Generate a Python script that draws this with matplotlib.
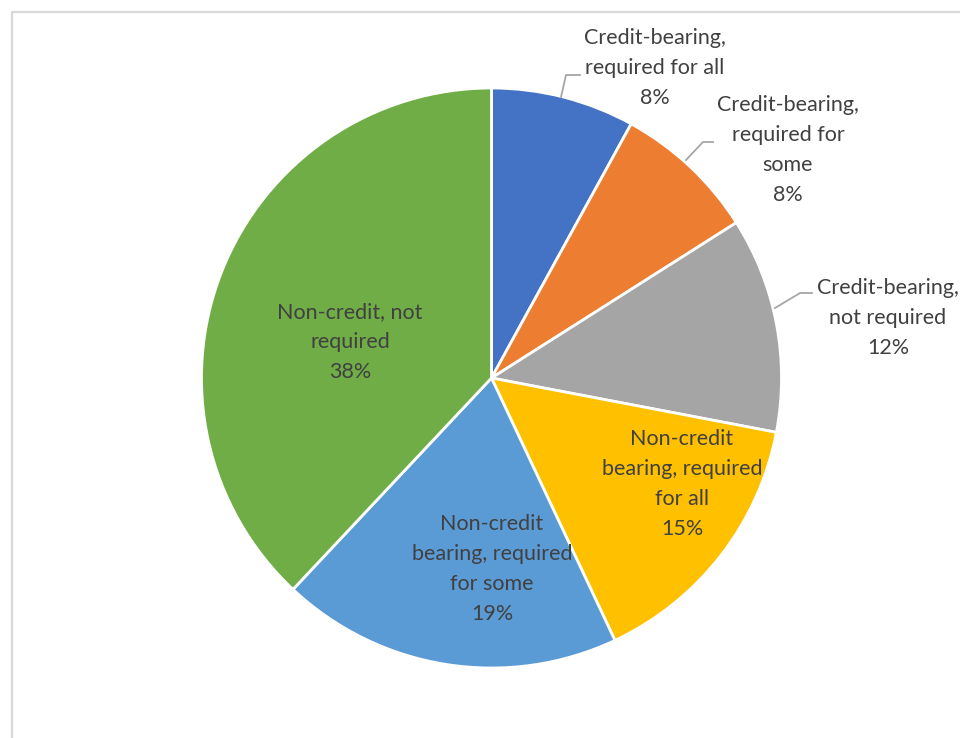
import matplotlib.pyplot as plt

# Course requirement breakdown
labels = ["Credit-bearing,\nrequired for all",
          "Credit-bearing,\nrequired for\nsome",
          "Credit-bearing,\nnot required",
          "Non-credit\nbearing, required\nfor all",
          "Non-credit\nbearing, required\nfor some",
          "Non-credit, not\nrequired"]
values = [8, 8, 12, 15, 19, 38]
colors = ["#4472C4", "#ED7D31", "#A5A5A5", "#FFC000", "#5B9BD5", "#70AD47"]

W, H = 960, 738
fig = plt.figure(figsize=(W / 100, H / 100), dpi=100)
ax = fig.add_axes([0, 0, 1, 1])

# pie in pixel coordinates (y up)
cx, cy, r = 491.5, H - 378, 290
ax.pie(values, colors=colors, startangle=90, counterclock=False,
       center=(cx, cy), radius=r,
       wedgeprops=dict(edgecolor="white", linewidth=2))
ax.set_xlim(0, W)
ax.set_ylim(0, H)
ax.set_aspect("auto")
ax.axis("off")

# label centres (x, y from top)
label_pos = [(655, 68), (788, 150), (888, 318),
             (682, 484), (492, 569), (350, 342)]
for lab, v, (x, y) in zip(labels, values, label_pos):
    ax.text(x, H - y, f"{lab}\n{v}%", ha="center", va="center",
            fontsize=15.5, color="#404040", family="Lato", linespacing=1.62)

# leader lines for the outside labels
leaders = [[(561, 97), (566, 75), (580, 75)],
           [(686, 160), (703, 142), (713, 142)],
           [(775, 308), (800, 293), (812, 293)]]
for pts in leaders:
    xs = [p[0] for p in pts]
    ys = [H - p[1] for p in pts]
    ax.plot(xs, ys, color="#A6A6A6", lw=1.3)

# chart area border (top and left)
ax.plot([11.5, 11.5, W + 5], [-5, H - 12, H - 12], color="#D9D9D9",
        lw=1.6, clip_on=False)

fig.savefig("out.png", dpi=100)
